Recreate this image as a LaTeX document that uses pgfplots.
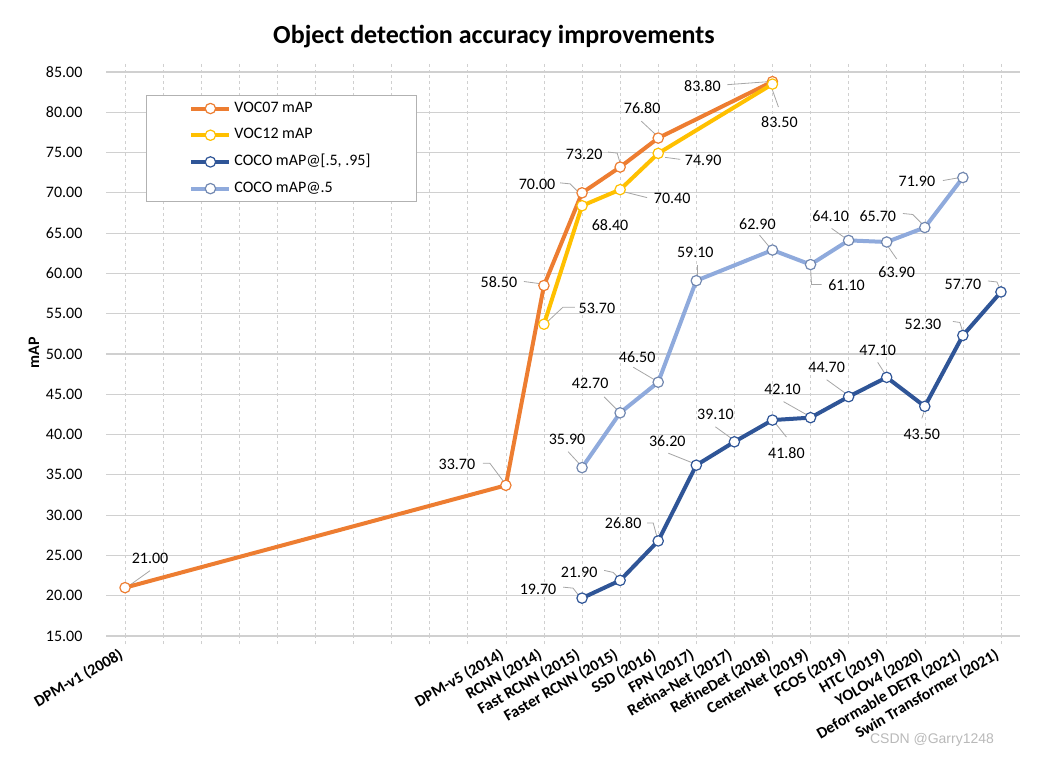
\documentclass[border=0pt]{standalone}
\usepackage{fontspec}
\setmainfont{Carlito}
\newfontfamily\wmfont{Liberation Sans}
\usepackage{pgfplots}
\pgfplotsset{compat=1.18}
\definecolor{c07}{HTML}{ED7D31}
\definecolor{c12}{HTML}{FFC000}
\definecolor{cocoA}{HTML}{2F5597}
\definecolor{cocoB}{HTML}{8FAADC}
\definecolor{gridc}{HTML}{D0D0D0}
\definecolor{leadc}{HTML}{A6A6A6}
\newcommand\dl[5]{\node[font=\fontsize{16}{18}\selectfont, inner sep=0pt] at ([xshift=#3pt,yshift=#4pt]axis cs:#1,#2) {#5};}
\newcommand\ldr[6]{\draw[leadc, line width=0.8pt] ([xshift=#3pt,yshift=#4pt]axis cs:#1,#2) -- ([xshift=#5pt,yshift=#6pt]axis cs:#1,#2);}
\newcommand\ldrr[8]{\draw[leadc, line width=0.8pt] ([xshift=#3pt,yshift=#4pt]axis cs:#1,#2) -- ([xshift=#5pt,yshift=#6pt]axis cs:#1,#2) -- ([xshift=#7pt,yshift=#8pt]axis cs:#1,#2);}
\begin{document}
\begin{tikzpicture}
\useasboundingbox (0,0) rectangle (1049pt,758pt);
\node[font=\bfseries\fontsize{26}{30}\selectfont] at (494pt,721pt) {Object detection accuracy improvements};
\node[rotate=90, font=\bfseries\fontsize{16}{18}\selectfont] at (34pt,405pt) {mAP};
\node[font=\wmfont\fontsize{14}{16}\selectfont, text=gray!55] at (932pt,18pt) {CSDN @Garry1248};
\begin{axis}[
  at={(106pt,122pt)}, anchor=south west,
  scale only axis, width=914pt, height=564pt,
  xmin=-0.5, xmax=23.5, ymin=15, ymax=85,
  xtick={0,...,23},
  xticklabels={DPM-v1 (2008),,,,,,,,,,DPM-v5 (2014),RCNN (2014),Fast RCNN (2015),Faster RCNN (2015),SSD (2016),FPN (2017),Retina-Net (2017),RefineDet (2018),CenterNet (2019),FCOS (2019),HTC (2019),YOLOv4 (2020),Deformable DETR (2021),Swin Transformer (2021)},
  ytick={15,20,...,85},
  axis line style={draw=none},
  xmajorgrids, ymajorgrids,
  x grid style={gridc, dashed, line width=0.6pt},
  y grid style={gridc, line width=1.2pt},
  tick align=outside, major tick length=8pt,
  xtick style={gridc, dashed, line width=0.6pt},
  ytick style={draw=none},
  /pgf/number format/assume math mode=true,
  y tick label style={font=\fontsize{16}{18}\selectfont, /pgf/number format/fixed, /pgf/number format/fixed zerofill, /pgf/number format/precision=2, xshift=-12pt},
  x tick label style={font=\bfseries\fontsize{16}{18}\selectfont, xshift=-7pt, yshift=-3pt, rotate=30, anchor=north east, inner sep=0pt},
  legend style={at={(axis description cs:0.0438,0.959)}, anchor=north west, draw=gray!60, line width=0.8pt,
    font=\fontsize{16}{18}\selectfont, inner xsep=43pt, inner ysep=5.5pt, row sep=11.7pt,
    nodes={inner ysep=0pt, inner xsep=3pt, text height=11pt, text depth=4pt}},
  legend cell align=left,
  legend image code/.code={\draw[mark repeat=2,mark phase=2,#1] plot coordinates {(0pt,0pt) (19pt,0pt) (38pt,0pt)};},
  every axis plot/.append style={line width=4pt, line join=round, mark=*, mark size=5.2pt},
]
% leader lines
\ldr{0}{21}{4}{2}{25}{17}
\ldrr{10}{33.7}{-1}{2}{-16}{22}{-23}{22}
\ldr{11}{58.5}{-5}{2}{-20}{4}
\ldrr{12}{70}{-4}{1}{-12}{9}{-22}{10}
\ldrr{13}{73.2}{0}{4}{-3}{14}{-12}{15}
\ldr{14}{76.8}{-2}{3}{-17}{17}
\ldr{17}{83.8}{-4}{0}{-45}{-3}
\ldrr{11}{53.7}{3}{2}{19}{17}{31}{17}
\ldr{13}{70.4}{3}{-2}{27}{-8}
\ldr{14}{74.9}{7}{-4}{22}{-6}
\ldr{17}{83.5}{0}{-6}{6}{-23}
\ldrr{12}{19.7}{-2}{1}{-9}{10}{-19}{11}
\ldrr{13}{21.9}{-1}{2}{-7}{8}{-16}{10}
\ldrr{14}{26.8}{-1}{3}{-5}{18}{-11}{18}
\ldr{15}{36.2}{-3}{2}{-28}{12}
\ldr{16}{39.1}{-1}{2}{-19}{15}
\ldr{17}{41.8}{2}{-2}{14}{-17}
\ldr{18}{42.1}{-4}{3}{-27}{16}
\ldr{19}{44.7}{-4}{4}{-22}{17}
\ldr{20}{47.1}{-2}{4}{-9}{15}
\ldr{21}{43.5}{-1}{-6}{-3}{-12}
\ldrr{22}{52.3}{0}{3}{-3}{13}{-10}{14}
\ldrr{23}{57.7}{-1}{3}{-4}{10}{-13}{11}
\ldr{12}{35.9}{-2}{3}{-14}{16}
\ldr{13}{42.7}{-3}{3}{-16}{16}
\ldr{14}{46.5}{-3}{2}{-25}{15}
\ldr{15}{59.1}{1}{4}{1}{16}
\ldr{17}{62.9}{-3}{3}{-13}{15}
\ldrr{18}{61.1}{0}{-3}{1}{-20}{11}{-20}
\ldr{19}{64.1}{-3}{2}{-17}{12}
\ldr{20}{63.9}{1}{-4}{10}{-17}
\ldrr{21}{65.7}{-2}{3}{-12}{13}{-22}{14}
\ldr{22}{71.9}{-3}{0}{-20}{-3}

\addplot[c07, mark options={solid, fill=white, draw=c07, line width=1.2pt}]
  coordinates {(0,21.0)(10,33.7)(11,58.5)(12,70.0)(13,73.2)(14,76.8)(17,83.8)};
\addlegendentry{VOC07 mAP}
\addplot[c12, mark options={solid, fill=white, draw=c12, line width=1.2pt}]
  coordinates {(11,53.7)(12,68.4)(13,70.4)(14,74.9)(17,83.5)};
\addlegendentry{VOC12 mAP}
\addplot[cocoA, mark options={solid, fill=white, draw=cocoA, line width=1.2pt}]
  coordinates {(12,19.7)(13,21.9)(14,26.8)(15,36.2)(16,39.1)(17,41.8)(18,42.1)(19,44.7)(20,47.1)(21,43.5)(22,52.3)(23,57.7)};
\addlegendentry{COCO mAP@[.5, .95]}
\addplot[cocoB, mark options={solid, fill=white, draw=cocoB!80!black, line width=1.2pt}]
  coordinates {(12,35.9)(13,42.7)(14,46.5)(15,59.1)(17,62.9)(18,61.1)(19,64.1)(20,63.9)(21,65.7)(22,71.9)};
\addlegendentry{COCO mAP@.5}

% data labels
\dl{0}{21}{25}{29}{21.00}
\dl{10}{33.7}{-49}{21}{33.70}
\dl{11}{58.5}{-45}{3}{58.50}
\dl{12}{70}{-45}{8}{70.00}
\dl{13}{73.2}{-36}{13}{73.20}
\dl{14}{76.8}{-16}{30}{76.80}
\dl{17}{83.8}{-70}{-4}{83.80}
\dl{11}{53.7}{53}{16}{53.70}
\dl{12}{68.4}{28}{-19}{68.40}
\dl{13}{70.4}{52}{-9}{70.40}
\dl{14}{74.9}{45}{-7}{74.90}
\dl{17}{83.5}{7}{-38}{83.50}
\dl{12}{19.7}{-44}{9}{19.70}
\dl{13}{21.9}{-41}{8}{21.90}
\dl{14}{26.8}{-35}{18}{26.80}
\dl{15}{36.2}{-29}{24}{36.20}
\dl{16}{39.1}{-19}{27}{39.10}
\dl{17}{41.8}{14}{-33}{41.80}
\dl{18}{42.1}{-28}{28}{42.10}
\dl{19}{44.7}{-22}{29}{44.70}
\dl{20}{47.1}{-9}{27}{47.10}
\dl{21}{43.5}{-3}{-28}{43.50}
\dl{22}{52.3}{-40}{11}{52.30}
\dl{23}{57.7}{-38}{8}{57.70}
\dl{12}{35.9}{-15}{28}{35.90}
\dl{13}{42.7}{-30}{29}{42.70}
\dl{14}{46.5}{-21}{25}{46.50}
\dl{15}{59.1}{-1}{28}{59.10}
\dl{17}{62.9}{-15}{26}{62.90}
\dl{18}{61.1}{36}{-21}{61.10}
\dl{19}{64.1}{-18}{24}{64.10}
\dl{20}{63.9}{10}{-30}{63.90}
\dl{21}{65.7}{-47}{11}{65.70}
\dl{22}{71.9}{-46}{-4}{71.90}
\end{axis}
\end{tikzpicture}
\end{document}
